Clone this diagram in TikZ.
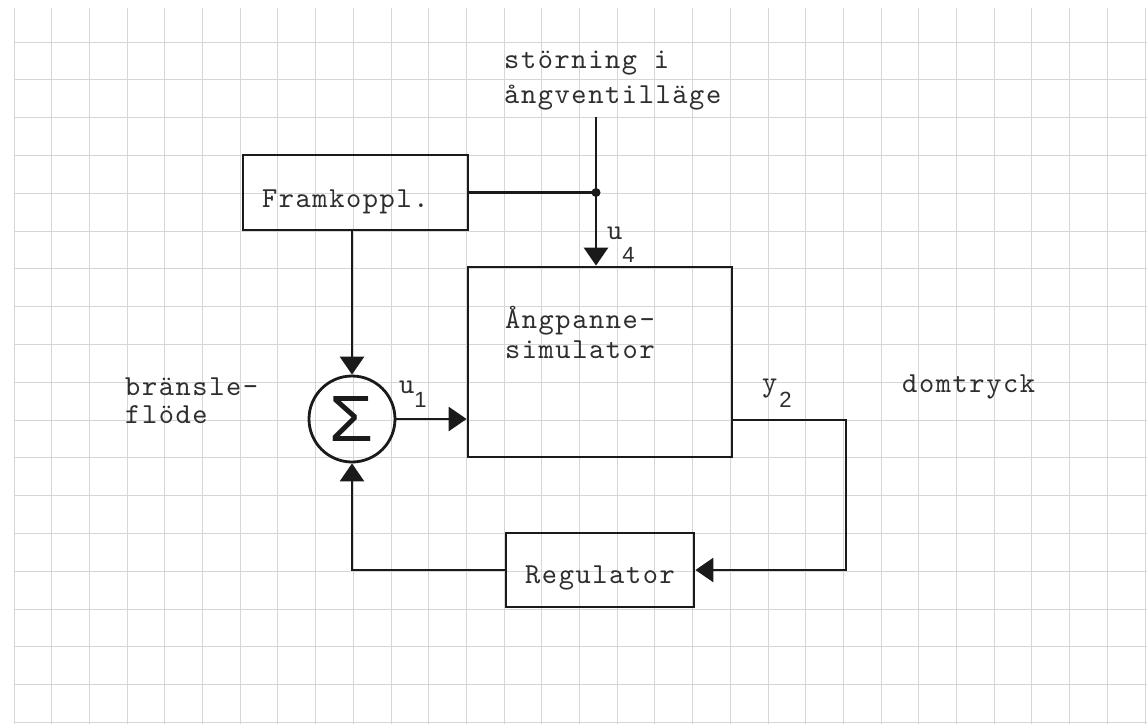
\documentclass[tikz,border=0pt]{standalone}
\usepackage{graphicx}
\usepackage{fontspec}
\newfontfamily\subfont{Liberation Sans}
\newfontfamily\twfont{lmmono10-regular.otf}[LetterSpace=5.5]
\usetikzlibrary{arrows.meta}
\definecolor{ink}{HTML}{1A1A1A}
\definecolor{txt}{HTML}{2E2E2E}
\definecolor{gridc}{HTML}{D6D6D6}
\newcommand\tw{\twfont\fontsize{29}{30}\selectfont}
\newcommand\lowdigit[2]{\raisebox{-#1}{\subfont\fontsize{22}{22}\selectfont #2}}
\tikzset{
  wire/.style={line width=2.8pt, draw=ink},
  arr/.style={wire, -{Triangle[width=24pt,length=18pt]}},
  blk/.style={draw=ink, line width=2.8pt, rectangle, inner sep=0pt, font=\tw, text=txt},
  lbl/.style={anchor=base west, inner sep=0pt, font=\tw, text=txt},
  gridline/.style={draw=gridc, line width=1pt}
}
\begin{document}
\begin{tikzpicture}[x=1pt,y=-1pt]
\useasboundingbox (0,0) rectangle (1147,724);
\fill[white] (0,0) rectangle (1147,724);
% graph paper
\foreach \i in {0,...,30} \draw[gridline] ({14+37.7*\i},8) -- ({14+37.7*\i},724);
\foreach \j in {0,...,18} \draw[gridline] (14,{42+37.8*\j}) -- (1147,{42+37.8*\j});
% blocks
\node[blk, minimum width=225pt, minimum height=75pt, text width=187pt, align=left,
      text height=39pt, text depth=10pt] (fram) at (355.5,192.5) {Framkoppl.};
\node[blk, minimum width=264pt, minimum height=190pt, text height=12pt, text depth=80pt]
      (sim) at (600,362) {\parbox[t]{190pt}{Ångpanne-\\simulator}};
\node[blk, minimum width=188pt, minimum height=74pt, text height=36pt, text depth=10pt]
      (reg) at (600,570) {Regulator};
\node[circle, draw=ink, line width=2.8pt, minimum size=86pt, inner sep=0pt, text=ink]
      (sum) at (352,419) {\resizebox{44pt}{45pt}{\subfont Σ}};
% helper points
\coordinate (top) at (596,117);
\coordinate (jn) at (596,192.5);
\coordinate (c1) at (846,420);
% connectors
\draw[wire] (fram.east) -- (jn);
\draw[arr] (top) -- (jn) -- (jn |- sim.north);
\fill[ink] (jn) circle (4.5pt);
\draw[arr] (fram.south -| sum) -- (sum.north);
\draw[arr] (sum.east) -- (sum.east -| sim.west);
\draw[arr] (sim.east |- c1) -- (c1) -- (c1 |- reg.east) -- (reg.east);
\draw[arr] (reg.west) -- (sum |- reg.west) -- (sum.south);
% labels
\node[lbl] (st1) at (504,68) {störning i};
\node[lbl] (st2) at (504,103) {ångventilläge};
\node[lbl] (br1) at (125,395) {bränsle-};
\node[lbl] (br2) at (125,423) {flöde};
\node[lbl] (dom) at (902,392) {domtryck};
\node[lbl] (u4) at (607,239) {u\lowdigit{23pt}{4}};
\node[lbl] (u1) at (399,393) {u\lowdigit{14pt}{1}};
\node[lbl] (y2) at (762,391) {y\kern2pt\lowdigit{16pt}{2}};
\end{tikzpicture}
\end{document}
